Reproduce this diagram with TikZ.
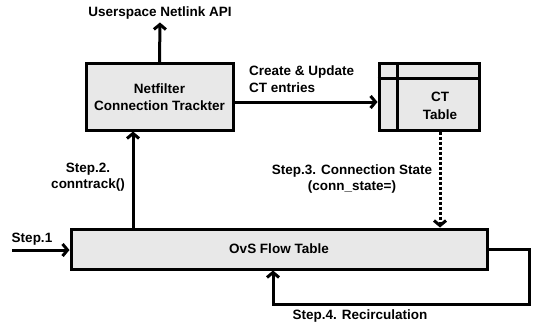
\documentclass[tikz,border=0pt]{standalone}
\usepackage{fontspec}
\setmainfont{Liberation Sans}
\usetikzlibrary{arrows.meta, positioning, shadows}

\begin{document}
\begin{tikzpicture}[
        x=1pt, y=-1pt,
        block/.style={rectangle, draw=black, line width=3pt, fill=gray!18, align=center, font=\bfseries\fontsize{13.5}{17.5}\selectfont, drop shadow={shadow xshift=1.5pt, shadow yshift=-1.5pt, fill=gray!60, opacity=1}},
        lbl/.style={font=\bfseries\fontsize{13.5}{16.5}\selectfont, inner sep=1pt},
        flow/.style={-{Straight Barb[length=5pt, width=12pt]}, line width=3pt},
        state/.style={-{Straight Barb[length=5pt, width=12pt]}, line width=3pt, dash pattern=on 3pt off 2pt},
    ]
        \useasboundingbox (0,0) rectangle (534,326);

        \node[block, minimum width=147pt, minimum height=66pt] (netf) at (159.5,97) {Netfilter\\Connection Trackter};
        \node[block, minimum width=100pt, minimum height=66pt] (ct) at (429,97) {};
        \node[block, minimum width=416pt, minimum height=40pt] (ovs) at (279,249) {OvS Flow Table};

        % table grid of CT box
        \draw[line width=3pt] ([yshift=-16pt]ct.north west) -- ([yshift=-16pt]ct.north east);
        \draw[line width=3pt] ([xshift=20pt]ct.north west) -- ([xshift=20pt]ct.south west);
        \node[lbl, align=center, font=\bfseries\fontsize{13.5}{17.5}\selectfont] (cttext) at (440,106) {CT\\Table};

        \node[lbl] (api) at (160,13) {Userspace Netlink API};
        \node[lbl, anchor=west, align=left] (create) at (248,79) {Create \& Update\\CT entries};
        \node[lbl, align=center] (step2) at (88,177) {Step.2.\\conntrack()};
        \node[lbl, align=center] (step3) at (352,179) {Step.3. Connection State\\(conn\_state=)};
        \node[lbl] (step1) at (32,239) {Step.1};
        \node[lbl] (step4) at (360,316) {Step.4. Recirculation};

        \coordinate (s1) at (12,250);
        \coordinate (s2) at (133,229);
        \coordinate (rc) at (529,304);

        \draw[flow, shorten >=2pt] (netf.north) -- (api.south);
        \draw[flow] ([yshift=-5pt]netf.east) -- ([yshift=-5pt]ct.west);
        \draw[flow] (s2) -- (s2 |- netf.south);
        \draw[state] ([xshift=11pt]ct.south) -- ([xshift=11pt]ct.south |- ovs.north);
        \draw[flow] (s1) -- (s1 -| ovs.west);
        \draw[flow] (ovs.east) -| (rc) -| ([xshift=-6pt]ovs.south);
    \end{tikzpicture}
\end{document}
